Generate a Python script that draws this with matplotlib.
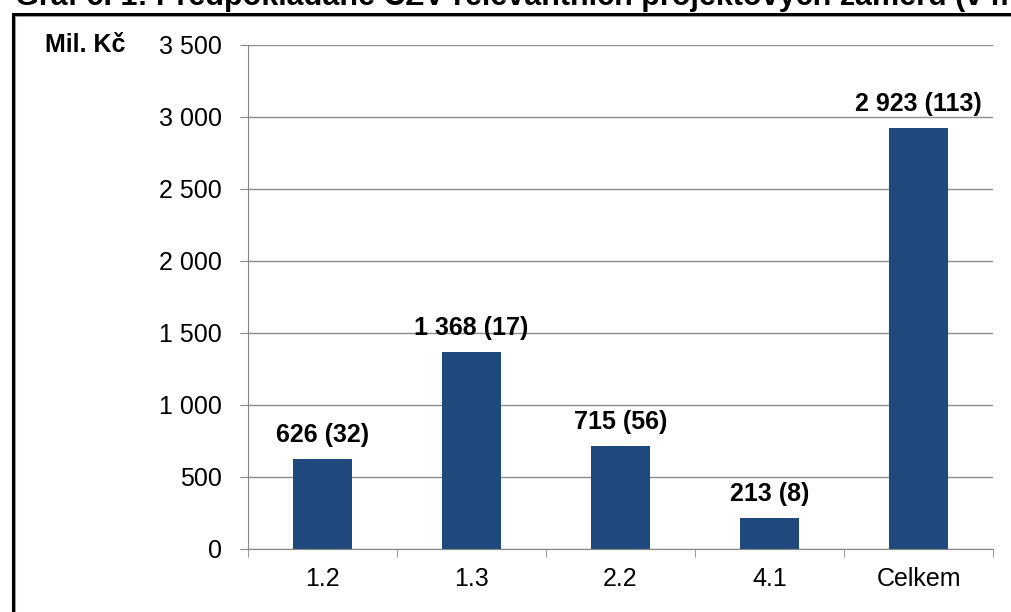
import matplotlib
matplotlib.use("Agg")
import matplotlib.pyplot as plt
from matplotlib.patches import Rectangle

categories = ["1.2", "1.3", "2.2", "4.1", "Celkem"]
values = [626, 1368, 715, 213, 2923]
counts = [32, 17, 56, 8, 113]
yticks = [0, 500, 1000, 1500, 2000, 2500, 3000, 3500]

def fmt(v):
    return f"{v:,}".replace(",", " ")

plt.rcParams['font.family'] = ['Liberation Sans', 'DejaVu Sans']

W, H = 1011, 612
fig = plt.figure(figsize=(W / 100, H / 100), dpi=100)
ax = fig.add_axes([248 / W, 1 - 549 / H, (993 - 248) / W, (549 - 45) / H])

x = list(range(len(categories)))
ax.bar(x, values, width=0.4, color="#1F497D", zorder=3)
for xi, v, c in zip(x, values, counts):
    ax.text(xi, v + 85, f"{fmt(v)} ({c})", ha="center", va="bottom",
            fontsize=18, fontweight="bold", color="#000000", zorder=4)

ax.set_xlim(-0.5, len(categories) - 0.5)
ax.set_ylim(0, 3500)
ax.set_yticks(yticks)
ax.set_yticklabels([fmt(t) for t in yticks], fontsize=18)
ax.set_xticks(x)
ax.set_xticklabels(categories, fontsize=18)
ax.set_xticks([i - 0.5 for i in range(len(categories) + 1)], minor=True)
ax.tick_params(axis="x", which="major", length=0, pad=13)
ax.tick_params(axis="x", which="minor", length=6, color="#888888", direction="out")
ax.tick_params(axis="y", length=6, color="#888888", pad=13)
ax.grid(axis="y", color="#8c8c8c", linewidth=1, zorder=0)
for s in ["top", "right"]:
    ax.spines[s].set_visible(False)
for s in ["left", "bottom"]:
    ax.spines[s].set_color("#888888")
    ax.spines[s].set_zorder(5)

fig.text(45 / W, 1 - 45 / H, "Mil. Kč", fontsize=18, fontweight="bold",
         ha="left", va="center")

# outer frame (with light shadow line below the top edge)
shadow = Rectangle((15 / W, -0.1), 1.2, 1 - 16 / H + 0.1, transform=fig.transFigure,
                   fill=False, edgecolor="#a0a0a0", linewidth=1.5)
fig.patches.append(shadow)
frame = Rectangle((13 / W, -0.1), 1.2, 1 - 13.5 / H + 0.1, transform=fig.transFigure,
                  fill=False, edgecolor="black", linewidth=2.2)
fig.patches.append(frame)

# title, cut at the top edge as in the source
fig.text(15 / W, 1 - 5 / H, "Graf č. 1: Předpokládané CZV relevantních projektových záměrů (v mil. Kč)",
         fontsize=22, fontweight="bold", ha="left", va="baseline")

fig.savefig("out.png", dpi=100)
